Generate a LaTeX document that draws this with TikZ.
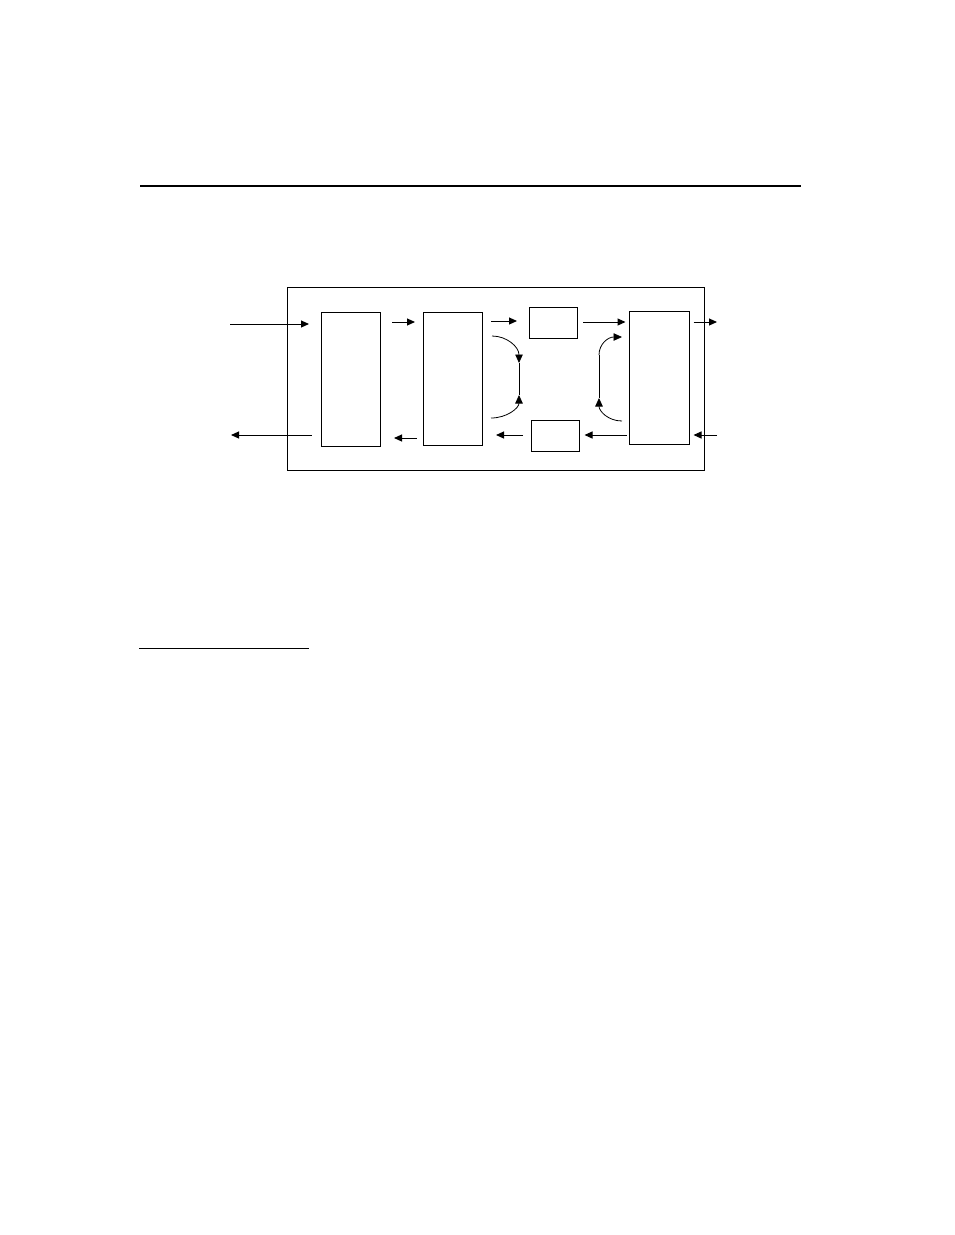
\documentclass[tikz,border=0pt]{standalone}
\usetikzlibrary{arrows.meta}
\begin{document}
\begin{tikzpicture}[x=1pt,y=-1pt,
  box/.style={draw,line width=1pt,inner sep=0pt,outer sep=0pt},
  arr/.style={line width=1pt,-{Triangle[length=8pt,width=7pt]}},
  curvearr/.style={line width=0.8pt,-{Triangle[length=8.5pt,width=7.5pt]}},
  thin line/.style={line width=1pt}]
\useasboundingbox (0,0) rectangle (954,1235);
% rules
\coordinate (r1) at (140,186);
\coordinate (r2) at (801,186);
\draw[line width=1.2pt] (r1) -- (r2);
\coordinate (f1) at (139,648);
\coordinate (f2) at (309,648);
\draw[line width=1pt] (f1) -- (f2);
% outer frame
\node[box, minimum width=417pt, minimum height=183pt] (frame) at (495.5,378.5) {};
% boxes
\node[box, minimum width=59pt, minimum height=134pt] (A) at (350.5,379) {};
\node[box, minimum width=59pt, minimum height=133pt] (B) at (452.5,378.5) {};
\node[box, minimum width=48pt, minimum height=31pt] (C) at (553,322.5) {};
\node[box, minimum width=48pt, minimum height=31pt] (D) at (555,435.5) {};
\node[box, minimum width=60pt, minimum height=133pt] (E) at (659,377.5) {};
% y levels
\coordinate (y324) at (0,324);
\coordinate (y322) at (0,322);
\coordinate (y321) at (0,321);
\coordinate (y435) at (0,435);
\coordinate (y438) at (0,438);
% free ends
\coordinate (inL) at (230,324);
\coordinate (outL) at (231,435);
\coordinate (outR) at (717,322);
\coordinate (inR) at (717,435);
% straight arrows
\draw[arr, shorten >=12pt] (inL) -- (A.west |- y324);
\draw[arr, shorten <=9.5pt] (A.west |- y435) -- (outL);
\draw[arr, shorten <=12pt, shorten >=8pt] (A.east |- y322) -- (B.west |- y322);
\draw[arr, shorten <=6.5pt, shorten >=14pt] (B.west |- y438) -- (A.east |- y438);
\draw[arr, shorten <=9pt, shorten >=12pt] (B.east |- y321) -- (C.west |- y321);
\draw[arr, shorten <=8pt, shorten >=14pt] (D.west |- y435) -- (B.east |- y435);
\draw[arr, shorten <=6pt, shorten >=3.5pt] (C.east |- y322) -- (E.west |- y322);
\draw[arr, shorten <=2.5pt, shorten >=5.5pt] (E.west |- y435) -- (D.east |- y435);
\draw[arr, shorten <=4.5pt] (E.east |- y322) -- (outR);
\draw[arr, shorten >=4.5pt] (inR) -- (E.east |- y435);
% left loop
\coordinate (l1) at (492,336);
\coordinate (l2) at (519,363);
\coordinate (l3) at (519,395);
\coordinate (l4) at (491,418);
\draw[curvearr] (l1) .. controls (507,336) and (519,347) .. (l2);
\draw[thin line] (l2) -- (l3);
\draw[curvearr] (l4) .. controls (507,418) and (519,408) .. (l3);
% right loop
\coordinate (m1) at (599,355);
\coordinate (m2) at (622,337);
\coordinate (m3) at (599,398);
\coordinate (m4) at (622,421);
\draw[curvearr] (m1) .. controls (599,344) and (608,337) .. (m2);
\draw[thin line] (m1) -- (m3);
\draw[curvearr] (m4) .. controls (608,421) and (599,411) .. (m3);
\end{tikzpicture}
\end{document}
